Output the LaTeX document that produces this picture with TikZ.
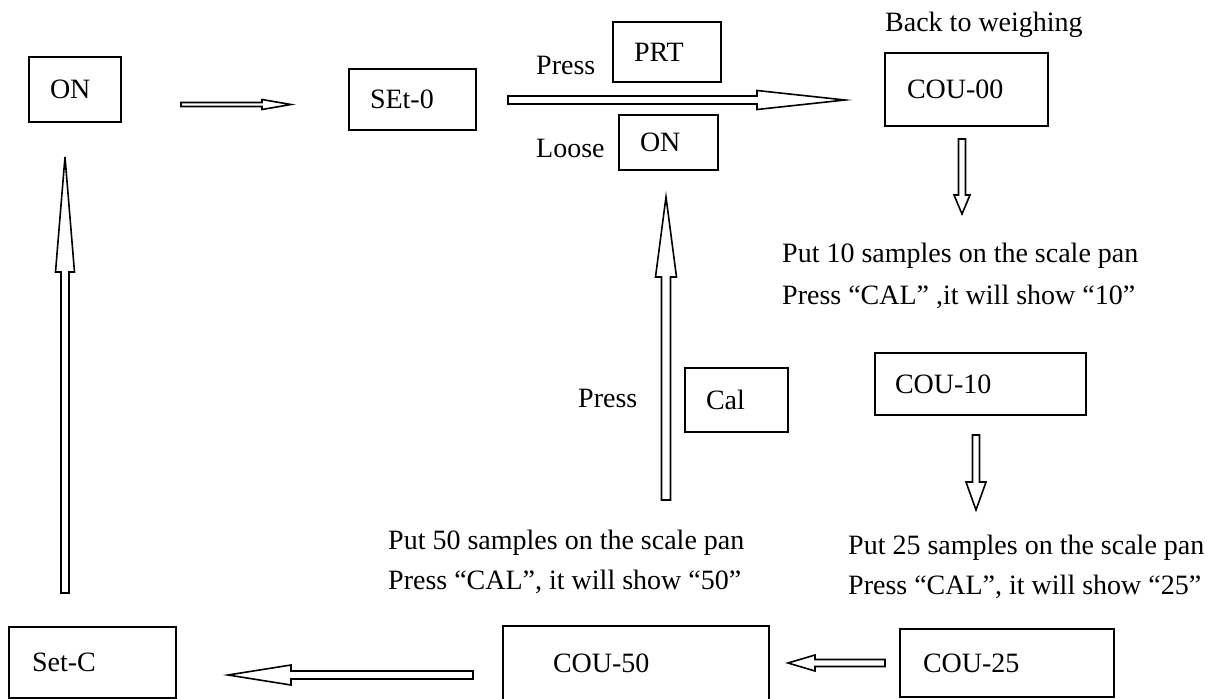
\documentclass[tikz,border=0pt]{standalone}
\usepackage{fontspec}
\setmainfont{Liberation Serif}
\usetikzlibrary{calc}

\tikzset{
	disp/.style={draw, line width=1.8, align=left, inner xsep=21},
	txt/.style={inner sep=0, anchor=west},
	arrowline/.style={draw, line width=1.6, line join=miter}
}

% hollow block arrow: tail, tip, shaft half width, head half width, head length
\newcommand{\blockarrow}[5]{%
	\draw[arrowline] ($(#1)!#3pt!90:(#2)$)
		-- ($(#2)!#5pt!(#1)!#3pt!-90:(#1)$)
		-- ($(#2)!#5pt!(#1)!#4pt!-90:(#1)$)
		-- (#2)
		-- ($(#2)!#5pt!(#1)!#4pt!90:(#1)$)
		-- ($(#2)!#5pt!(#1)!#3pt!90:(#1)$)
		-- ($(#1)!#3pt!-90:(#2)$) -- cycle;
}

\begin{document}
\begin{tikzpicture}[x=1pt, y=-1pt, font=\fontsize{28}{34}\selectfont]
		\useasboundingbox (0,0) rectangle (1224,699);
		
		% display boxes
		\node[disp, text width=50, minimum height=65] (on) at (75,89.5) {ON};
		\node[disp, text width=85, minimum height=61] (set0) at (412.5,99.5) {SEt-0};
		\node[disp, text width=66, minimum height=60] (prt) at (667,52) {PRT};
		\node[disp, text width=57, minimum height=55] (onkey) at (668.5,142.5) {ON};
		\node[disp, inner xsep=22, text width=119, minimum height=73] (cou00) at (966.5,89.5) {COU-00};
		\node[disp, text width=61, minimum height=64] (cal) at (736.5,400) {Cal};
		\node[disp, inner xsep=20, text width=171, minimum height=62] (cou10) at (980.5,384) {COU-10};
		\node[disp, inner xsep=23, text width=168, minimum height=68] (cou25) at (1007,663) {COU-25};
		\node[disp, inner xsep=50, text width=166, minimum height=74] (cou50) at (636,663) {COU-50};
		\node[disp, inner xsep=23, text width=121, minimum height=71] (setc) at (92.5,662.5) {Set-C};
		
		% texts
		\node[txt] (press) at (536,65) {Press};
		\node[txt] (loose) at (536,148) {Loose};
		\node[txt] (back) at (885,25) {Back to weighing};
		\node[txt] (presscal) at (578,398) {Press};
		\node[txt, align=left] (put10) at (782,276)
			{Put 10 samples on the scale pan\\[8pt]Press “CAL” ,it will show “10”};
		\node[txt, align=left] (put50) at (388,562)
			{Put 50 samples on the scale pan\\[6pt]Press “CAL”, it will show “50”};
		\node[txt, align=left] (put25) at (848,567)
			{Put 25 samples on the scale pan\\[6pt]Press “CAL”, it will show “25”};
		
		% arrow ends
		\foreach \n/\x/\y in {from1/181/104.5, to1/291/104.5, from2/508/100, to2/845/100,
			from3/962/139, to3/962/214, from4/666/500, to4/666/197,
			from5/976/435, to5/976/510, from6/65/593, to6/65/157,
			from7/473/675, to7/228/675, from8/885/663, to8/788/663}
			\coordinate (\n) at (\x,\y);
		
		\blockarrow{from1}{to1}{2}{5}{29}
		\blockarrow{from2}{to2}{4}{9.5}{88}
		\blockarrow{from3}{to3}{3.5}{8}{19}
		\blockarrow{from4}{to4}{4.5}{10.5}{80}
		\blockarrow{from5}{to5}{3.5}{10}{28}
		\blockarrow{from6}{to6}{4}{9.5}{115}
		\blockarrow{from7}{to7}{4}{10}{63}
		\blockarrow{from8}{to8}{3.5}{8}{27}
	\end{tikzpicture}
\end{document}
